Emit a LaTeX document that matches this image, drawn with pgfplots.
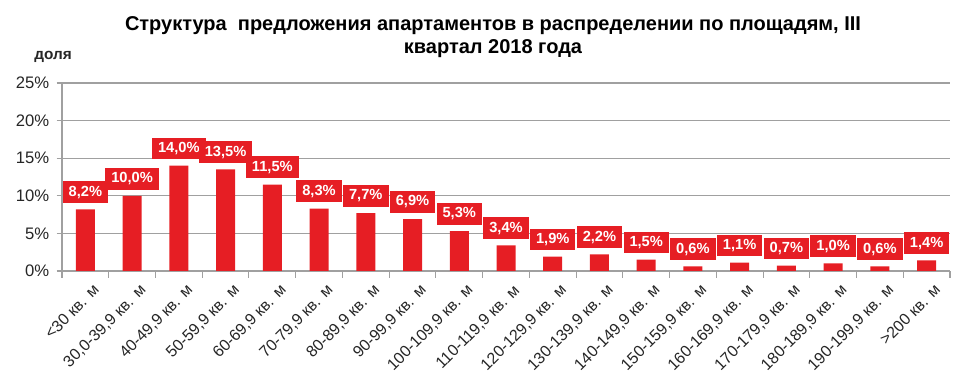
\documentclass[border=0pt]{standalone}
\usepackage{fontspec}
\setmainfont{Liberation Sans}
\usepackage{pgfplots}
\pgfplotsset{compat=1.18}
\definecolor{barred}{RGB}{230,30,36}
\definecolor{gridgray}{RGB}{160,160,160}
\definecolor{txt}{RGB}{38,38,38}
\begin{document}
\begin{tikzpicture}
\path[use as bounding box] (-46.5pt,-87.75pt) rectangle (683.25pt,203.25pt);
\begin{axis}[
  at={(0pt,0pt)}, anchor=south west,
  scale only axis, width=666pt, height=141pt,
  xmin=-0.5, xmax=18.5, ymin=0, ymax=25,
  ytick={0,5,...,25},
  yticklabel={\pgfmathprintnumber{\tick}\%},
  /pgf/number format/assume math mode=true,
  ymajorgrids, grid style={gridgray, line width=0.8pt},
  axis line style={gridgray, line width=0.8pt},
  axis x line*=bottom, axis y line*=left,
  tick style={gridgray, line width=0.8pt},
  major tick length=4pt,
  tick align=outside,
  xtick={0,...,18},
  x tick style={draw=none},
  minor xtick={-0.5,0.5,...,18.5},
  minor x tick style={draw=gridgray},
  minor tick length=5pt,
  xticklabels={{<30 кв. м},{30,0-39,9 кв. м},{40-49,9 кв. м},{50-59,9 кв. м},{60-69,9 кв. м},{70-79,9 кв. м},{80-89,9 кв. м},{90-99,9 кв. м},{100-109,9 кв. м},{110-119,9 кв. м},{120-129,9 кв. м},{130-139,9 кв. м},{140-149,9 кв. м},{150-159,9 кв. м},{160-169,9 кв. м},{170-179,9 кв. м},{180-189,9 кв. м},{190-199,9 кв. м},{>200 кв. м}},
  x tick label style={rotate=45, anchor=north east, font=\fontsize{12}{13}\selectfont, text=txt, inner sep=1pt, xshift=1pt, yshift=-6pt},
  y tick label style={font=\fontsize{12.5}{14}\selectfont, text=txt, xshift=-2pt},
  ybar, bar width=14.25pt,
  nodes near coords={\pgfmathprintnumber[fixed, fixed zerofill, precision=1, use comma]{\pgfplotspointmeta}\%},
  nodes near coords style={fill=barred, text=white, font=\bfseries\fontsize{11}{12}\selectfont, anchor=south, yshift=4.5pt, inner xsep=4.5pt, inner ysep=3.5pt},
  point meta=explicit,
  clip=false,
]
\addplot[fill=barred, draw=none] table[x=x, y=y, meta=y] {
x y
0 8.2
1 10.0
2 14.0
3 13.5
4 11.5
5 8.3
6 7.7
7 6.9
8 5.3
9 3.4
10 1.9
11 2.2
12 1.5
13 0.6
14 1.1
15 0.7
16 1.0
17 0.6
18 1.4
};
\end{axis}
\node[font=\bfseries\fontsize{15}{17.5}\selectfont, align=center] at (323.25pt,175.5pt) {Структура\ \ предложения апартаментов в распределении по площадям, III\\квартал 2018 года};
\node[font=\bfseries\fontsize{11.5}{12}\selectfont, text=txt] at (-6.75pt,160.5pt) {доля};
\end{tikzpicture}
\end{document}
